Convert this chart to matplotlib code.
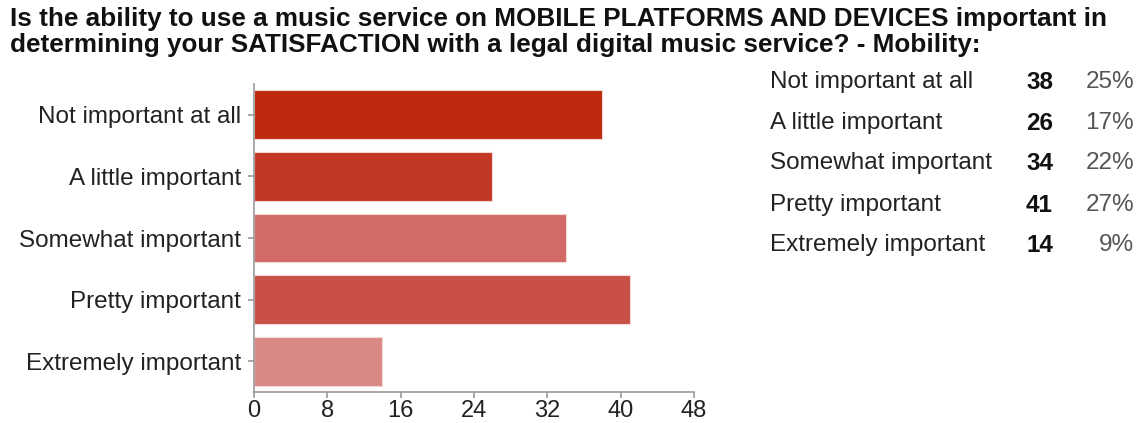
import matplotlib.pyplot as plt

categories = ['Not important at all', 'A little important', 'Somewhat important',
              'Pretty important', 'Extremely important']
counts = [38, 26, 34, 41, 14]
percents = ['25%', '17%', '22%', '27%', '9%']
colors = ['#BE2A0E', '#C33726', '#D26B65', '#C85046', '#DA8886']
xticks = [0, 8, 16, 24, 32, 40, 48]

plt.rcParams['font.family'] = ['Liberation Sans', 'DejaVu Sans']

W, H = 1141, 423
dpi = 100
fig = plt.figure(figsize=(W / dpi, H / dpi), dpi=dpi)

# axes: x 254..694 px, y 84..392 px
ax = fig.add_axes([254 / W, 1 - 392 / H, (694 - 254) / W, (392 - 84) / H])
ypos = list(range(len(categories)))
ax.barh(ypos, counts, height=0.79, color=colors, edgecolor='#f4d8d4', linewidth=0.8)
ax.set_ylim(len(categories) - 0.5, -0.5)
ax.set_xlim(0, 48)
ax.set_xticks(xticks)
ax.set_yticks(ypos)
ax.set_yticklabels(categories, fontsize=17.5, color='#222222')
ax.set_xticklabels([str(t) for t in xticks], fontsize=17, color='#222222')
for s in ['top', 'right']:
    ax.spines[s].set_visible(False)
for s in ['left', 'bottom']:
    ax.spines[s].set_color('#999999')
    ax.spines[s].set_linewidth(1.2)
ax.tick_params(axis='both', colors='#999999', length=4.5, width=1.2, labelcolor='#222222')
ax.tick_params(axis='y', pad=5)
ax.tick_params(axis='x', pad=1.5)

title = ('Is the ability to use a music service on MOBILE PLATFORMS AND DEVICES important in\n'
         'determining your SATISFACTION with a legal digital music service? - Mobility:')
fig.text(10 / W, 1 - 7 / H, title, fontsize=18.8, fontweight='bold', va='top', ha='left',
         linespacing=1.1, color='#111111')

# summary table on the right
row_y = [82, 123, 163, 205, 245]
for cat, n, p, y in zip(categories, counts, percents, row_y):
    fig.text(770 / W, 1 - y / H, cat, fontsize=17.5, va='center', ha='left', color='#222222')
    fig.text(1053 / W, 1 - y / H, str(n), fontsize=17.5, va='center', ha='right',
             fontweight='bold', color='#111111')
    fig.text(1134 / W, 1 - y / H, p, fontsize=17.5, va='center', ha='right', color='#555555')

fig.savefig('out.png', dpi=dpi)
